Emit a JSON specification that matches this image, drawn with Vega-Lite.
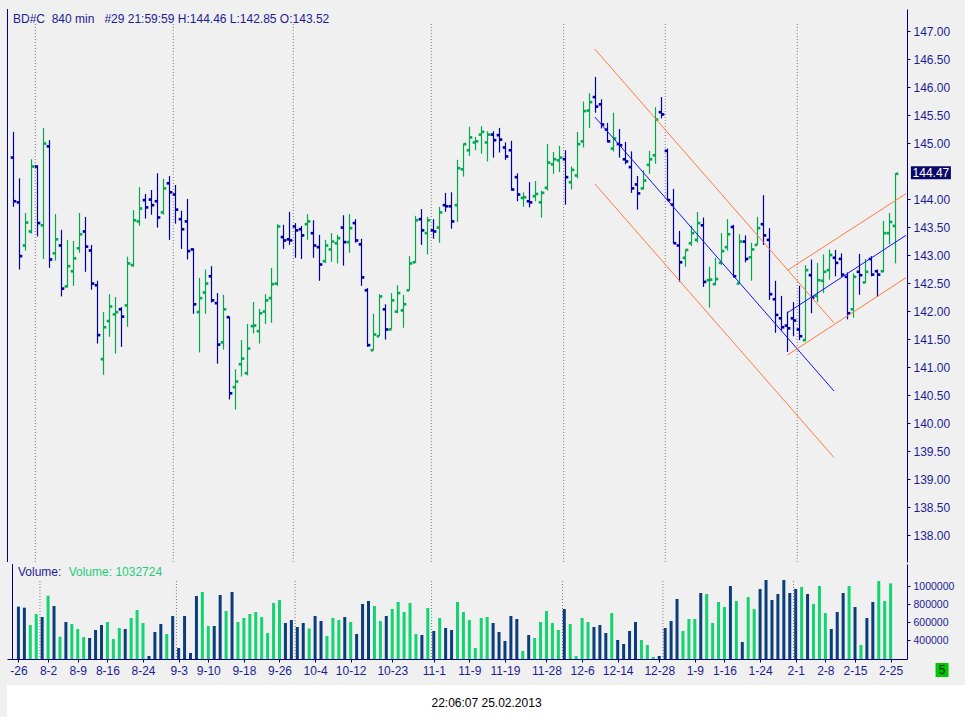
{
  "$schema": "https://vega.github.io/schema/vega-lite/v6.json",
  "padding": {"left": 6, "top": 8, "right": 0, "bottom": 0},
  "background": "#f0f0f0",
  "datasets": {
    "bars": [
      {"i":0,"o":144.74,"h":145.2,"l":143.86,"c":143.96,"v":773700,"dir":"down"},
      {"i":1,"o":143.94,"h":144.37,"l":142.74,"c":142.98,"v":762600,"dir":"down"},
      {"i":2,"o":143.17,"h":143.75,"l":143.08,"c":143.58,"v":570000,"dir":"up"},
      {"i":3,"o":143.42,"h":144.71,"l":143.38,"c":144.58,"v":692200,"dir":"up"},
      {"i":4,"o":144.58,"h":144.6,"l":143.33,"c":143.57,"v":658900,"dir":"down"},
      {"i":5,"o":143.53,"h":145.27,"l":142.93,"c":144.99,"v":895900,"dir":"up"},
      {"i":6,"o":144.94,"h":145.05,"l":142.77,"c":142.92,"v":781100,"dir":"down"},
      {"i":7,"o":143.03,"h":143.73,"l":142.9,"c":143.28,"v":440400,"dir":"up"},
      {"i":8,"o":143.17,"h":143.45,"l":142.26,"c":142.4,"v":603300,"dir":"down"},
      {"i":9,"o":142.44,"h":143.27,"l":142.42,"c":142.8,"v":581100,"dir":"up"},
      {"i":10,"o":142.71,"h":143.25,"l":142.45,"c":142.94,"v":525600,"dir":"up"},
      {"i":11,"o":143.12,"h":143.75,"l":143.04,"c":143.37,"v":436700,"dir":"up"},
      {"i":12,"o":143.42,"h":143.68,"l":142.7,"c":143.15,"v":425600,"dir":"down"},
      {"i":13,"o":143.08,"h":143.18,"l":142.38,"c":142.49,"v":514500,"dir":"down"},
      {"i":14,"o":142.46,"h":142.54,"l":141.42,"c":141.57,"v":570000,"dir":"down"},
      {"i":15,"o":141.14,"h":141.98,"l":140.86,"c":141.71,"v":603300,"dir":"up"},
      {"i":16,"o":141.82,"h":142.3,"l":141.54,"c":142.08,"v":414500,"dir":"up"},
      {"i":17,"o":141.94,"h":142.25,"l":141.24,"c":141.98,"v":536700,"dir":"up"},
      {"i":18,"o":142.03,"h":142.07,"l":141.36,"c":141.9,"v":525600,"dir":"down"},
      {"i":19,"o":142.1,"h":142.97,"l":141.72,"c":142.85,"v":647800,"dir":"up"},
      {"i":20,"o":142.82,"h":143.8,"l":142.79,"c":143.62,"v":736700,"dir":"up"},
      {"i":21,"o":143.6,"h":144.21,"l":143.52,"c":143.83,"v":592200,"dir":"up"},
      {"i":22,"o":143.98,"h":144.09,"l":143.65,"c":143.85,"v":225600,"dir":"down"},
      {"i":23,"o":143.99,"h":144.16,"l":143.72,"c":143.89,"v":492200,"dir":"down"},
      {"i":24,"o":143.96,"h":144.46,"l":143.49,"c":143.67,"v":581100,"dir":"down"},
      {"i":25,"o":143.76,"h":144.36,"l":143.72,"c":144.19,"v":470000,"dir":"up"},
      {"i":26,"o":144.28,"h":144.41,"l":143.27,"c":144.12,"v":670000,"dir":"down"},
      {"i":27,"o":144.08,"h":144.25,"l":143.56,"c":143.81,"v":314500,"dir":"down"},
      {"i":28,"o":143.64,"h":143.79,"l":143.11,"c":143.46,"v":670000,"dir":"down"},
      {"i":29,"o":143.6,"h":144.0,"l":142.92,"c":143.07,"v":258900,"dir":"down"},
      {"i":30,"o":143.1,"h":143.12,"l":141.95,"c":142.12,"v":892200,"dir":"down"},
      {"i":31,"o":141.98,"h":142.59,"l":141.26,"c":142.23,"v":936700,"dir":"up"},
      {"i":32,"o":142.33,"h":142.74,"l":141.95,"c":142.49,"v":558900,"dir":"up"},
      {"i":33,"o":142.62,"h":142.8,"l":142.15,"c":142.19,"v":558900,"dir":"down"},
      {"i":34,"o":142.14,"h":142.32,"l":141.06,"c":141.4,"v":903300,"dir":"down"},
      {"i":35,"o":141.44,"h":142.29,"l":141.31,"c":142.03,"v":725600,"dir":"up"},
      {"i":36,"o":141.89,"h":141.9,"l":140.42,"c":140.53,"v":936700,"dir":"down"},
      {"i":37,"o":140.64,"h":140.96,"l":140.24,"c":140.74,"v":603300,"dir":"up"},
      {"i":38,"o":141.05,"h":141.48,"l":140.83,"c":141.15,"v":647800,"dir":"up"},
      {"i":39,"o":140.89,"h":141.77,"l":140.85,"c":141.33,"v":692200,"dir":"up"},
      {"i":40,"o":141.73,"h":142.16,"l":141.6,"c":141.74,"v":714500,"dir":"up"},
      {"i":41,"o":141.64,"h":142.04,"l":141.42,"c":141.96,"v":658900,"dir":"up"},
      {"i":42,"o":141.99,"h":142.3,"l":141.77,"c":142.19,"v":481100,"dir":"up"},
      {"i":43,"o":142.23,"h":142.77,"l":141.79,"c":142.48,"v":814500,"dir":"up"},
      {"i":44,"o":142.49,"h":143.55,"l":142.45,"c":143.51,"v":847800,"dir":"up"},
      {"i":45,"o":143.32,"h":143.54,"l":143.11,"c":143.26,"v":592200,"dir":"down"},
      {"i":46,"o":143.28,"h":143.77,"l":143.18,"c":143.26,"v":625600,"dir":"down"},
      {"i":47,"o":143.51,"h":143.57,"l":142.95,"c":143.44,"v":547800,"dir":"down"},
      {"i":48,"o":143.46,"h":143.52,"l":142.93,"c":143.35,"v":592200,"dir":"down"},
      {"i":49,"o":143.55,"h":143.73,"l":143.27,"c":143.6,"v":531000,"dir":"up"},
      {"i":50,"o":143.39,"h":143.62,"l":142.95,"c":143.17,"v":670000,"dir":"down"},
      {"i":51,"o":143.14,"h":143.36,"l":142.54,"c":142.83,"v":614500,"dir":"down"},
      {"i":52,"o":142.89,"h":143.27,"l":142.86,"c":143.17,"v":447800,"dir":"up"},
      {"i":53,"o":143.1,"h":143.39,"l":142.88,"c":143.24,"v":647800,"dir":"up"},
      {"i":54,"o":143.21,"h":143.36,"l":142.85,"c":143.3,"v":625600,"dir":"up"},
      {"i":55,"o":143.49,"h":143.71,"l":142.81,"c":143.23,"v":658900,"dir":"down"},
      {"i":56,"o":143.23,"h":143.73,"l":143.04,"c":143.48,"v":603300,"dir":"up"},
      {"i":57,"o":143.57,"h":143.64,"l":143.22,"c":143.26,"v":470000,"dir":"down"},
      {"i":58,"o":143.19,"h":143.29,"l":142.45,"c":142.6,"v":803300,"dir":"down"},
      {"i":59,"o":142.37,"h":142.41,"l":141.36,"c":141.39,"v":836700,"dir":"down"},
      {"i":60,"o":141.3,"h":141.95,"l":141.3,"c":141.58,"v":781100,"dir":"up"},
      {"i":61,"o":141.55,"h":142.3,"l":141.55,"c":142.26,"v":614500,"dir":"up"},
      {"i":62,"o":142.03,"h":142.12,"l":141.49,"c":141.67,"v":670000,"dir":"down"},
      {"i":63,"o":141.67,"h":142.32,"l":141.67,"c":142.19,"v":747800,"dir":"up"},
      {"i":64,"o":141.99,"h":142.46,"l":141.96,"c":142.32,"v":825600,"dir":"up"},
      {"i":65,"o":142.01,"h":142.29,"l":141.7,"c":142.12,"v":714500,"dir":"up"},
      {"i":66,"o":142.37,"h":142.98,"l":142.37,"c":142.85,"v":814500,"dir":"up"},
      {"i":67,"o":142.87,"h":143.7,"l":142.86,"c":143.62,"v":470000,"dir":"up"},
      {"i":68,"o":143.64,"h":143.82,"l":143.18,"c":143.44,"v":458900,"dir":"down"},
      {"i":69,"o":143.39,"h":143.68,"l":143.01,"c":143.62,"v":758900,"dir":"up"},
      {"i":70,"o":143.44,"h":143.64,"l":143.29,"c":143.42,"v":503300,"dir":"down"},
      {"i":71,"o":143.49,"h":143.86,"l":143.22,"c":143.76,"v":647800,"dir":"up"},
      {"i":72,"o":143.89,"h":144.11,"l":143.77,"c":143.87,"v":536700,"dir":"down"},
      {"i":73,"o":143.87,"h":144.12,"l":143.47,"c":143.6,"v":514500,"dir":"down"},
      {"i":74,"o":143.89,"h":144.7,"l":143.59,"c":144.55,"v":825600,"dir":"up"},
      {"i":75,"o":144.53,"h":144.99,"l":144.4,"c":144.98,"v":714500,"dir":"up"},
      {"i":76,"o":144.87,"h":145.29,"l":144.77,"c":145.1,"v":625600,"dir":"up"},
      {"i":77,"o":145.01,"h":145.11,"l":144.87,"c":145.03,"v":314500,"dir":"up"},
      {"i":78,"o":145.15,"h":145.3,"l":144.81,"c":145.2,"v":647800,"dir":"up"},
      {"i":79,"o":145.01,"h":145.21,"l":144.67,"c":145.15,"v":658900,"dir":"up"},
      {"i":80,"o":145.15,"h":145.21,"l":144.74,"c":145.05,"v":592200,"dir":"down"},
      {"i":81,"o":145.14,"h":145.27,"l":144.83,"c":145.06,"v":492200,"dir":"down"},
      {"i":82,"o":144.92,"h":145.01,"l":144.7,"c":144.76,"v":392200,"dir":"down"},
      {"i":83,"o":144.87,"h":145.04,"l":144.15,"c":144.17,"v":670000,"dir":"down"},
      {"i":84,"o":144.39,"h":144.46,"l":143.96,"c":144.08,"v":636700,"dir":"down"},
      {"i":85,"o":144.02,"h":144.12,"l":143.86,"c":144.03,"v":281100,"dir":"up"},
      {"i":86,"o":143.96,"h":144.3,"l":143.85,"c":143.94,"v":458900,"dir":"down"},
      {"i":87,"o":144.05,"h":144.32,"l":143.96,"c":144.09,"v":425600,"dir":"up"},
      {"i":88,"o":143.94,"h":144.15,"l":143.67,"c":144.11,"v":603300,"dir":"up"},
      {"i":89,"o":144.2,"h":144.98,"l":144.15,"c":144.65,"v":725600,"dir":"up"},
      {"i":90,"o":144.62,"h":144.84,"l":144.45,"c":144.71,"v":592200,"dir":"up"},
      {"i":91,"o":144.69,"h":144.95,"l":144.48,"c":144.74,"v":514500,"dir":"up"},
      {"i":92,"o":144.71,"h":144.87,"l":143.9,"c":144.39,"v":747800,"dir":"down"},
      {"i":93,"o":144.3,"h":144.58,"l":144.17,"c":144.52,"v":581100,"dir":"up"},
      {"i":94,"o":144.42,"h":145.2,"l":144.37,"c":144.98,"v":225600,"dir":"up"},
      {"i":95,"o":145.03,"h":145.74,"l":144.92,"c":145.57,"v":647800,"dir":"up"},
      {"i":96,"o":145.58,"h":145.89,"l":145.27,"c":145.73,"v":603300,"dir":"up"},
      {"i":97,"o":145.82,"h":146.18,"l":145.54,"c":145.65,"v":547800,"dir":"down"},
      {"i":98,"o":145.69,"h":145.78,"l":145.26,"c":145.33,"v":570000,"dir":"down"},
      {"i":99,"o":145.24,"h":145.36,"l":145.01,"c":145.03,"v":481100,"dir":"down"},
      {"i":100,"o":144.9,"h":145.54,"l":144.85,"c":145.08,"v":703300,"dir":"up"},
      {"i":101,"o":144.98,"h":145.25,"l":144.74,"c":144.96,"v":403300,"dir":"down"},
      {"i":102,"o":144.71,"h":145.02,"l":144.62,"c":144.67,"v":358900,"dir":"down"},
      {"i":103,"o":144.57,"h":144.85,"l":144.11,"c":144.19,"v":503300,"dir":"down"},
      {"i":104,"o":144.26,"h":144.41,"l":143.81,"c":144.1,"v":603300,"dir":"down"},
      {"i":105,"o":144.19,"h":144.51,"l":144.17,"c":144.33,"v":403300,"dir":"up"},
      {"i":106,"o":144.61,"h":144.86,"l":144.45,"c":144.71,"v":347800,"dir":"up"},
      {"i":107,"o":144.78,"h":145.64,"l":144.63,"c":145.42,"v":214500,"dir":"up"},
      {"i":108,"o":145.55,"h":145.82,"l":145.44,"c":145.51,"v":225600,"dir":"down"},
      {"i":109,"o":144.86,"h":144.9,"l":143.97,"c":143.98,"v":536700,"dir":"down"},
      {"i":110,"o":143.9,"h":144.18,"l":143.2,"c":143.21,"v":614500,"dir":"down"},
      {"i":111,"o":143.17,"h":143.43,"l":142.52,"c":142.87,"v":858900,"dir":"down"},
      {"i":112,"o":142.95,"h":143.1,"l":142.79,"c":143.09,"v":503300,"dir":"up"},
      {"i":113,"o":143.21,"h":143.52,"l":143.16,"c":143.39,"v":636700,"dir":"up"},
      {"i":114,"o":143.27,"h":143.77,"l":143.22,"c":143.57,"v":636700,"dir":"up"},
      {"i":115,"o":143.53,"h":143.67,"l":142.43,"c":142.52,"v":925600,"dir":"down"},
      {"i":116,"o":142.55,"h":142.79,"l":142.06,"c":142.56,"v":914500,"dir":"up"},
      {"i":117,"o":142.48,"h":142.95,"l":142.46,"c":142.57,"v":592200,"dir":"up"},
      {"i":118,"o":142.86,"h":143.39,"l":142.82,"c":143.07,"v":825600,"dir":"up"},
      {"i":119,"o":143.14,"h":143.64,"l":143.08,"c":143.37,"v":770000,"dir":"up"},
      {"i":120,"o":143.5,"h":143.54,"l":142.6,"c":142.62,"v":1003300,"dir":"down"},
      {"i":121,"o":142.49,"h":143.37,"l":142.49,"c":143.24,"v":836700,"dir":"up"},
      {"i":122,"o":143.24,"h":143.35,"l":142.87,"c":142.93,"v":381100,"dir":"down"},
      {"i":123,"o":142.96,"h":143.22,"l":142.54,"c":143.1,"v":881100,"dir":"up"},
      {"i":124,"o":143.18,"h":143.68,"l":143.18,"c":143.48,"v":747800,"dir":"up"},
      {"i":125,"o":143.55,"h":144.07,"l":143.18,"c":143.35,"v":970000,"dir":"down"},
      {"i":126,"o":143.27,"h":143.48,"l":142.2,"c":142.3,"v":1070000,"dir":"down"},
      {"i":127,"o":142.21,"h":142.54,"l":141.61,"c":141.93,"v":847800,"dir":"down"},
      {"i":128,"o":141.87,"h":142.27,"l":141.65,"c":141.71,"v":914500,"dir":"down"},
      {"i":129,"o":141.74,"h":141.99,"l":141.27,"c":141.69,"v":1070000,"dir":"down"},
      {"i":130,"o":141.87,"h":142.16,"l":141.55,"c":141.83,"v":925600,"dir":"down"},
      {"i":131,"o":141.67,"h":142.45,"l":141.48,"c":141.55,"v":970000,"dir":"down"},
      {"i":132,"o":141.48,"h":142.82,"l":141.46,"c":142.73,"v":992200,"dir":"up"},
      {"i":133,"o":142.64,"h":142.92,"l":141.96,"c":142.24,"v":914500,"dir":"down"},
      {"i":134,"o":142.27,"h":142.86,"l":142.16,"c":142.55,"v":803300,"dir":"up"},
      {"i":135,"o":142.54,"h":143.01,"l":142.32,"c":142.7,"v":1003300,"dir":"up"},
      {"i":136,"o":142.73,"h":143.1,"l":142.56,"c":143.0,"v":703300,"dir":"up"},
      {"i":137,"o":142.95,"h":143.09,"l":142.62,"c":142.86,"v":525600,"dir":"down"},
      {"i":138,"o":142.93,"h":143.03,"l":142.61,"c":142.65,"v":714500,"dir":"down"},
      {"i":139,"o":142.61,"h":142.69,"l":141.85,"c":141.96,"v":925600,"dir":"down"},
      {"i":140,"o":142.03,"h":142.67,"l":141.88,"c":142.61,"v":1003300,"dir":"up"},
      {"i":141,"o":142.7,"h":143.02,"l":142.29,"c":142.64,"v":770000,"dir":"down"},
      {"i":142,"o":142.51,"h":142.93,"l":142.5,"c":142.7,"v":347800,"dir":"up"},
      {"i":143,"o":142.93,"h":142.98,"l":142.62,"c":142.65,"v":647800,"dir":"down"},
      {"i":144,"o":142.71,"h":142.74,"l":142.25,"c":142.65,"v":825600,"dir":"down"},
      {"i":145,"o":142.71,"h":143.61,"l":142.69,"c":143.39,"v":1058900,"dir":"up"},
      {"i":146,"o":143.39,"h":143.75,"l":143.19,"c":143.59,"v":836700,"dir":"up"},
      {"i":147,"o":143.52,"h":144.46,"l":142.85,"c":144.45,"v":1032724,"dir":"up"}
    ],
    "lines": [
      {"seg":"dh","kind":"chan","k":96.9,"p":146.675},{"seg":"dh","kind":"chan","k":136.75,"p":141.786},
      {"seg":"dl","kind":"chan","k":96.9,"p":144.268},{"seg":"dl","kind":"chan","k":136.75,"p":139.384},
      {"seg":"dm","kind":"trend","k":96.9,"p":145.464},{"seg":"dm","kind":"trend","k":136.75,"p":140.571},
      {"seg":"uh","kind":"chan","k":129.0,"p":142.727},{"seg":"uh","kind":"chan","k":148.75,"p":144.095},
      {"seg":"ul","kind":"chan","k":129.0,"p":141.214},{"seg":"ul","kind":"chan","k":148.75,"p":142.595},
      {"seg":"um","kind":"trend","k":129.0,"p":141.97},{"seg":"um","kind":"trend","k":148.75,"p":143.352}
    ],
    "months": [{"k":3.63},{"k":26.63},{"k":46.63},{"k":69.63},{"k":91.7},{"k":108.63},{"k":130.63}],
    "header": [{"t":"BD#C\u00a0\u00a0840 min\u00a0\u00a0\u00a0#29 21:59:59 H:144.46 L:142.85 O:143.52"}],
    "marker": [{"p":144.47}],
    "vollabel": [{"a":"Volume:","b":"Volume: 1032724","n":"5"}],
    "stamp": [{"t":"22:06:07 25.02.2013"}]
  },
  "vconcat": [
    {
      "width": 900,
      "height": 553,
      "layer": [
        {
          "data": {"name": "months"},
          "mark": {"type": "rule", "color": "#7a7a7a", "strokeDash": [1, 2], "strokeWidth": 1},
          "encoding": {
            "x": {"field": "k", "type": "quantitative", "axis": null, "scale": {"domain": [-1.0833, 148.9167], "nice": false, "zero": false}},
            "y": {"datum": 147.125, "type": "quantitative", "scale": {"domain": [137.518, 147.3929], "nice": false, "zero": false},
              "axis": {"orient": "right", "title": null, "values": [138, 138.5, 139, 139.5, 140, 140.5, 141, 141.5, 142, 142.5, 143, 143.5, 144, 145, 145.5, 146, 146.5, 147], "tickCount": 100, "format": ".2f", "minExtent": 52, "maxExtent": 52, "labelFontSize": 12, "labelOverlap": false}},
            "y2": {"datum": 137.518}
          }
        },
        {
          "data": {"name": "header"},
          "mark": {"type": "rule", "color": "#000080", "strokeWidth": 1},
          "encoding": {
            "x": {"datum": -1.0, "type": "quantitative", "axis": null}
          }
        },
        {
          "data": {"name": "bars"},
          "mark": {"type": "rule", "strokeWidth": 1.2},
          "encoding": {
            "x": {"field": "i", "type": "quantitative", "axis": null},
            "y": {"field": "l", "type": "quantitative", "title": null},
            "y2": {"field": "h"},
            "color": {"field": "dir", "type": "nominal", "scale": {"domain": ["up", "down"], "range": ["#00a850", "#0000a8"]}, "legend": null}
          }
        },
        {
          "data": {"name": "bars"},
          "mark": {"type": "square", "size": 7, "xOffset": -1.5, "opacity": 1, "filled": true},
          "encoding": {
            "x": {"field": "i", "type": "quantitative", "axis": null},
            "y": {"field": "o", "type": "quantitative", "title": null},
            "color": {"field": "dir", "type": "nominal", "legend": null}
          }
        },
        {
          "data": {"name": "bars"},
          "mark": {"type": "square", "size": 7, "xOffset": 1.5, "opacity": 1, "filled": true},
          "encoding": {
            "x": {"field": "i", "type": "quantitative", "axis": null},
            "y": {"field": "c", "type": "quantitative", "title": null},
            "color": {"field": "dir", "type": "nominal", "legend": null}
          }
        },
        {
          "data": {"name": "lines"},
          "mark": {"type": "line", "strokeWidth": 1},
          "encoding": {
            "x": {"field": "k", "type": "quantitative", "axis": null},
            "y": {"field": "p", "type": "quantitative", "title": null},
            "detail": {"field": "seg"},
            "stroke": {"field": "kind", "type": "nominal", "scale": {"domain": ["chan", "trend"], "range": ["#ff7a3c", "#1010ff"]}, "legend": null}
          }
        },
        {
          "data": {"name": "header"},
          "mark": {"type": "text", "align": "left", "baseline": "middle", "fontSize": 12, "color": "#1c1c94"},
          "encoding": {
            "x": {"datum": -0.08, "type": "quantitative", "axis": null},
            "y": {"datum": 147.214, "type": "quantitative"},
            "text": {"field": "t", "type": "nominal"}
          }
        },
        {
          "data": {"name": "marker"},
          "mark": {"type": "tick", "orient": "horizontal", "thickness": 13, "size": 40, "color": "#08086a", "opacity": 1},
          "encoding": {
            "x": {"datum": 152.9, "type": "quantitative", "axis": null},
            "y": {"field": "p", "type": "quantitative", "title": null}
          }
        },
        {
          "data": {"name": "marker"},
          "mark": {"type": "text", "align": "center", "baseline": "middle", "fontSize": 12, "color": "#ffffff"},
          "encoding": {
            "x": {"datum": 152.9, "type": "quantitative", "axis": null},
            "y": {"field": "p", "type": "quantitative", "title": null},
            "text": {"field": "p", "type": "quantitative", "format": ".2f"}
          }
        }
      ]
    },
    {
      "width": 900,
      "height": 95,
      "layer": [
        {
          "data": {"name": "months"},
          "mark": {"type": "rule", "color": "#7a7a7a", "strokeDash": [1, 2], "strokeWidth": 1},
          "encoding": {
            "x": {"field": "k", "type": "quantitative", "scale": {"domain": [-1.0833, 148.9167], "nice": false, "zero": false},
              "axis": {"orient": "bottom", "title": null, "values": [0, 5, 10, 15, 21, 27, 32, 38, 44, 50, 56, 63, 70, 76, 82, 89, 95, 101, 108, 114, 119, 125, 131, 136, 141, 147], "tickCount": 100,
                "labelExpr": "{'0':'-26','5':'8-2','10':'8-9','15':'8-16','21':'8-24','27':'9-3','32':'9-10','38':'9-18','44':'9-26','50':'10-4','56':'10-12','63':'10-23','70':'11-1','76':'11-9','82':'11-19','89':'11-28','95':'12-6','101':'12-14','108':'12-28','114':'1-9','119':'1-16','125':'1-24','131':'2-1','136':'2-8','141':'2-15','147':'2-25'}[datum.value]",
                "labelFlush": 10, "labelFlushOffset": 5.4, "labelOverlap": false, "labelFontSize": 12, "minExtent": 26, "maxExtent": 26}},
            "y": {"datum": 1058889, "type": "quantitative", "scale": {"domain": [192222, 1247778], "nice": false, "zero": false},
              "axis": {"orient": "right", "title": null, "values": [400000, 600000, 800000, 1000000], "tickCount": 100, "format": "d", "minExtent": 52, "maxExtent": 52, "labelFontSize": 10.5, "labelOverlap": false}},
            "y2": {"datum": 192222}
          }
        },
        {
          "data": {"name": "vollabel"},
          "mark": {"type": "rule", "color": "#000080", "strokeWidth": 1},
          "encoding": {
            "x": {"datum": -1.0, "type": "quantitative"}
          }
        },
        {
          "data": {"name": "bars"},
          "mark": {"type": "bar", "size": 3},
          "encoding": {
            "x": {"field": "i", "type": "quantitative", "title": null},
            "y": {"field": "v", "type": "quantitative", "title": null},
            "y2": {"datum": 192222},
            "fill": {"field": "dir", "type": "nominal", "scale": {"domain": ["up", "down"], "range": ["#12d470", "#0b3d7d"]}, "legend": null}
          }
        },
        {
          "data": {"name": "vollabel"},
          "mark": {"type": "text", "align": "left", "baseline": "middle", "fontSize": 12, "color": "#1c1c94"},
          "encoding": {
            "x": {"datum": -0.08, "type": "quantitative"},
            "y": {"datum": 1155555, "type": "quantitative"},
            "text": {"field": "a", "type": "nominal"}
          }
        },
        {
          "data": {"name": "vollabel"},
          "mark": {"type": "text", "align": "left", "baseline": "middle", "fontSize": 12, "color": "#22cc7a"},
          "encoding": {
            "x": {"datum": 8.47, "type": "quantitative"},
            "y": {"datum": 1155555, "type": "quantitative"},
            "text": {"field": "b", "type": "nominal"}
          }
        },
        {
          "data": {"name": "vollabel"},
          "mark": {"type": "tick", "orient": "horizontal", "thickness": 14, "size": 13, "color": "#00c800", "opacity": 1},
          "encoding": {
            "x": {"datum": 155.67, "type": "quantitative"},
            "y": {"datum": 70000, "type": "quantitative"}
          }
        },
        {
          "data": {"name": "vollabel"},
          "mark": {"type": "text", "align": "center", "baseline": "middle", "fontSize": 12, "color": "#002000"},
          "encoding": {
            "x": {"datum": 155.67, "type": "quantitative"},
            "y": {"datum": 70000, "type": "quantitative"},
            "text": {"field": "n", "type": "nominal"}
          }
        }
      ]
    },
    {
      "width": 959,
      "height": 35,
      "view": {"fill": "#ffffff"},
      "data": {"name": "stamp"},
      "mark": {"type": "text", "fontSize": 12, "color": "#000000"},
      "encoding": {
        "text": {"field": "t", "type": "nominal"}
      }
    }
  ],
  "spacing": 0,
  "config": {
    "font": "Liberation Sans",
    "view": {"stroke": null},
    "axis": {
      "grid": false,
      "domainColor": "#000080",
      "tickColor": "#000080",
      "labelColor": "#1c1c94",
      "labelFont": "Liberation Sans",
      "tickSize": 3,
      "labelPadding": 3,
      "labelOverlap": false
    }
  }
}
